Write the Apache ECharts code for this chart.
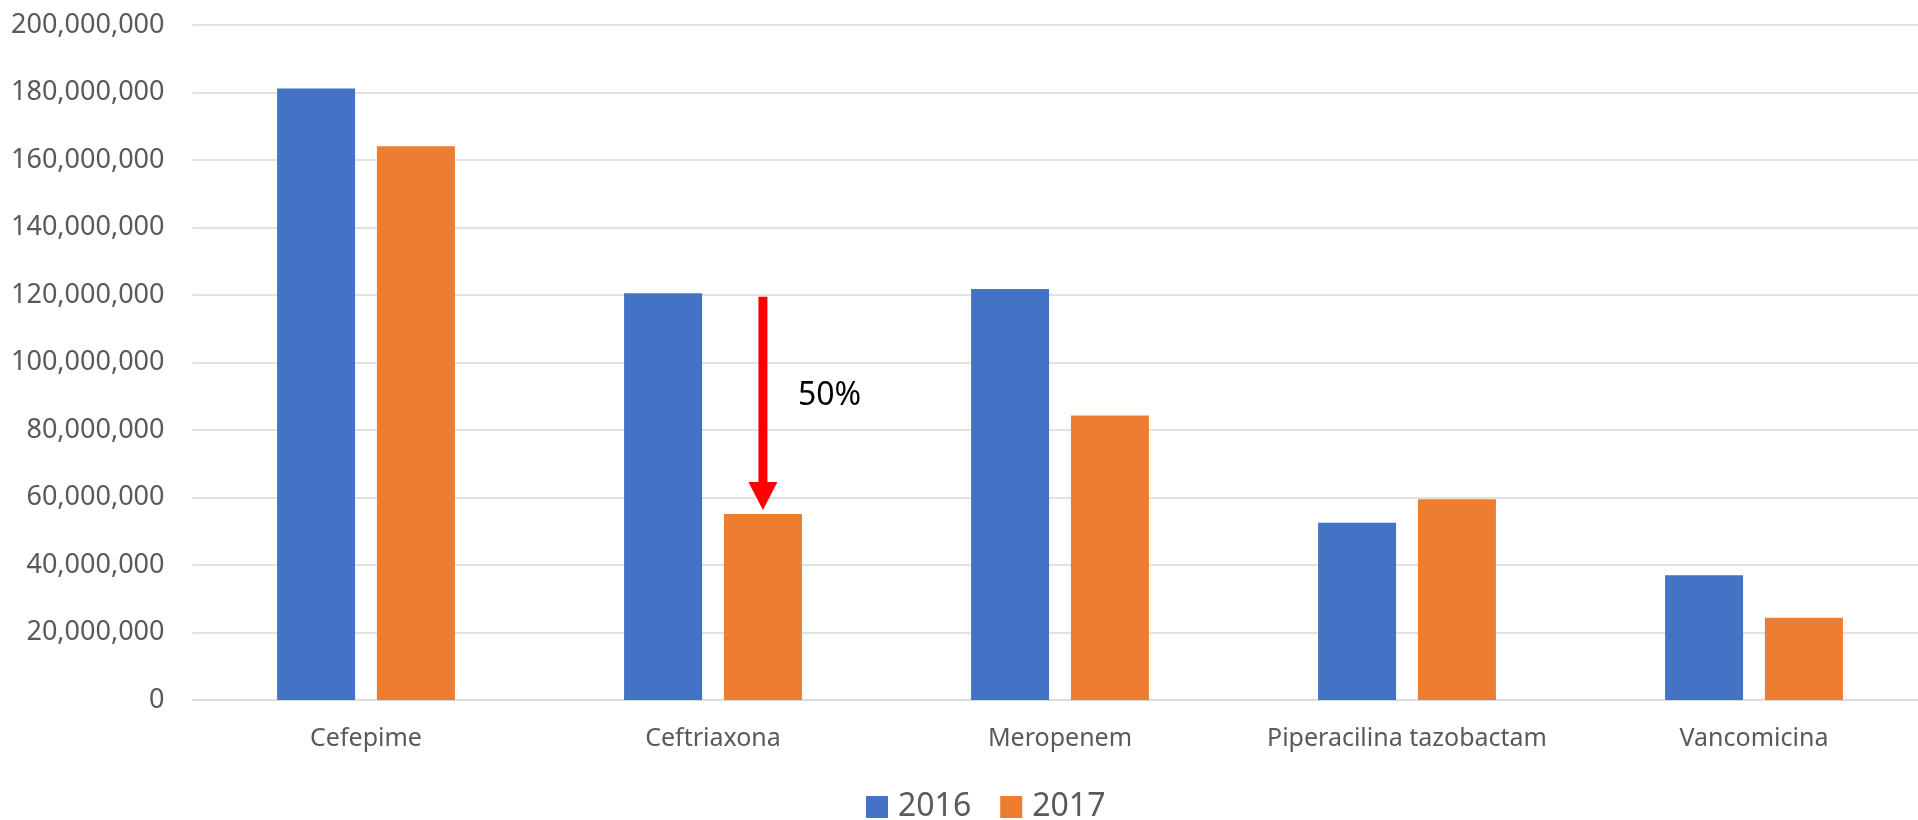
<!DOCTYPE html>
<html>
<head>
<meta charset="utf-8">
<script src="https://cdn.jsdelivr.net/npm/echarts@6/dist/echarts.min.js"></script>
<style>
  html, body { margin: 0; padding: 0; background: #fff; }
  #chart { width: 1918px; height: 820px; }
</style>
</head>
<body>
<div id="chart"></div>
<script>
const categories = ['Cefepime', 'Ceftriaxona', 'Meropenem', 'Piperacilina tazobactam', 'Vancomicina'];
const seriesNames = ['2016', '2017'];
const values2016 = [181200000, 120500000, 121800000, 52500000, 37000000];
const values2017 = [164100000, 55100000, 84300000, 59500000, 24400000];
const yTicks = { min: 0, max: 200000000, interval: 20000000 };
// annotation: arrow on Ceftriaxona 2017 bar
const arrowCategory = 'Ceftriaxona';
const arrowFrom = 119500000;
const arrowTo = 56300000;
const arrowLabel = '50%';
const arrowLabelValue = 90000000;

const BAR_W = 78, BAR_GAP = 0.28;
const FONT = '"Noto Sans", "Open Sans", sans-serif';

const chart = echarts.init(document.getElementById('chart'), null, { renderer: 'canvas' });
const option = {
  animation: false,
  backgroundColor: '#ffffff',
  grid: { left: 192.5, right: -9.5, top: 25, bottom: 120, outerBoundsMode: 'none', containLabel: false },
  legend: {
    data: seriesNames,
    left: 861, top: 786,
    icon: 'rect', itemWidth: 22, itemHeight: 22, itemGap: 29,
    textStyle: { fontFamily: FONT, fontSize: 32, color: '#595959', padding: [0, 0, 0, 5] }
  },
  xAxis: {
    type: 'category',
    data: categories,
    axisLine: { show: true, lineStyle: { color: '#d9d9d9', width: 1.5 } },
    axisTick: { show: false },
    axisLabel: { fontFamily: FONT, fontSize: 25, color: '#595959', margin: 26, interval: 0, hideOverlap: false },
    splitLine: { show: false }
  },
  yAxis: {
    type: 'value',
    min: yTicks.min, max: yTicks.max, interval: yTicks.interval,
    axisLine: { show: false },
    axisTick: { show: false },
    axisLabel: {
      fontFamily: FONT, fontSize: 27, color: '#595959', margin: 28,
      formatter: v => v.toLocaleString('en-US')
    },
    splitLine: { lineStyle: { color: '#d9d9d9', width: 1.5 } }
  },
  series: [
    { name: seriesNames[0], type: 'bar', data: values2016, barWidth: BAR_W, barGap: (BAR_GAP * 100) + '%',
      itemStyle: { color: '#4472C4' } },
    { name: seriesNames[1], type: 'bar', data: values2017, barWidth: BAR_W, barGap: (BAR_GAP * 100) + '%',
      itemStyle: { color: '#ED7D31' } }
  ]
};
chart.setOption(option);

function drawArrow() {
  const idx = categories.indexOf(arrowCategory);
  const p1 = chart.convertToPixel({ gridIndex: 0 }, [idx, arrowFrom]);
  const p2 = chart.convertToPixel({ gridIndex: 0 }, [idx, arrowTo]);
  const pl = chart.convertToPixel({ gridIndex: 0 }, [idx, arrowLabelValue]);
  const offset = (BAR_W + BAR_W * BAR_GAP) / 2;
  const x = p1[0] + offset;
  const shaftW = 9, headW = 29, headH = 28;
  chart.setOption({
    graphic: [
      { type: 'rect', shape: { x: x - shaftW / 2, y: p1[1], width: shaftW, height: p2[1] - p1[1] - headH + 1 },
        style: { fill: '#ff0000' }, z: 100 },
      { type: 'polygon', shape: { points: [[x - headW / 2, p2[1] - headH], [x + headW / 2, p2[1] - headH], [x, p2[1]]] },
        style: { fill: '#ff0000' }, z: 100 },
      { type: 'text', x: x + 35, y: pl[1],
        style: { text: arrowLabel, font: '32px ' + FONT, fill: '#000000', verticalAlign: 'middle', align: 'left' }, z: 100 }
    ]
  });
}
drawArrow();
</script>
</body>
</html>
